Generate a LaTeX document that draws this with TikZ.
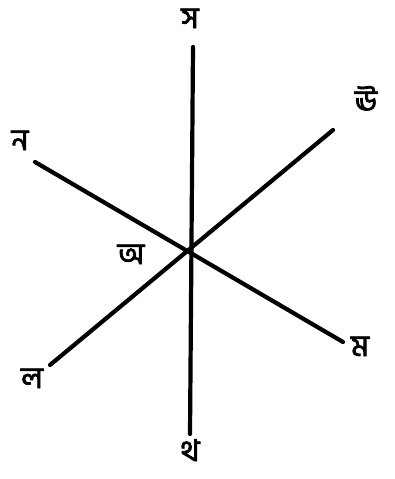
\documentclass[tikz,border=0pt]{standalone}
\usepackage{fontspec}
\usepackage{tikz}
\usetikzlibrary{positioning}
\newfontfamily\bengfont[Script=Bengali,FakeBold=2.5]{Hind Siliguri}

\begin{document}
\begin{tikzpicture}[x=1pt,y=-1pt,
  axis/.style={line width=4.2pt,line cap=round},
  lab/.style={font=\bengfont\fontsize{30}{30}\selectfont,inner sep=0pt,
    text height=15pt,text depth=3pt}]

\useasboundingbox (0,0) rectangle (394,479);

% axis ends
\coordinate (O) at (189,252);
\coordinate (T) at (193,47);
\coordinate (B) at (190,434);
\coordinate (UL) at (35,162);
\coordinate (LR) at (343,342);
\coordinate (UR) at (333,130);
\coordinate (LL) at (50,365);

\draw[axis] (T) -- (B);
\draw[axis] (UL) -- (LR);
\draw[axis] (UR) -- (LL);

% labels
\node[lab] (lT) at (190,22) {স};
\node[lab] (lUR) at (366,105) {ঊ};
\node[lab] (lUL) at (20,144) {ন};
\node[lab] (lO) at (131,258) {অ};
\node[lab] (lLR) at (360,350) {ম};
\node[lab] (lLL) at (32,382) {ল};
\node[lab] (lB) at (190,455) {থ};
\end{tikzpicture}
\end{document}
